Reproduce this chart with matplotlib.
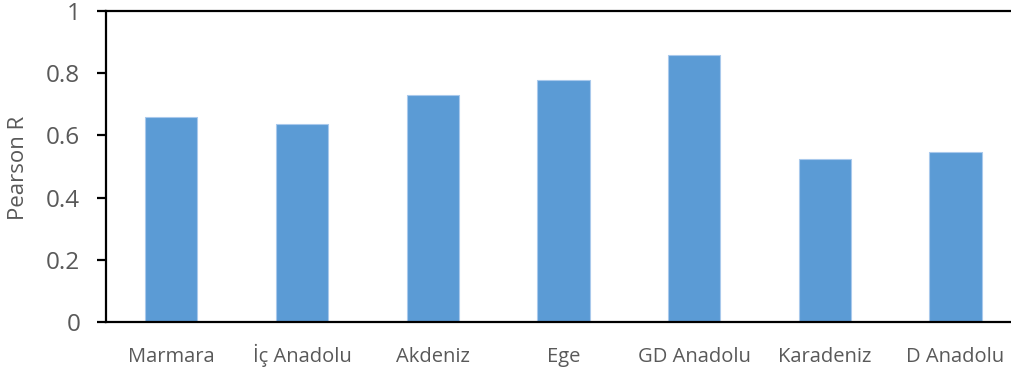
import matplotlib
matplotlib.use("Agg")
import matplotlib.pyplot as plt

categories = ["Marmara", "İç Anadolu", "Akdeniz", "Ege", "GD Anadolu", "Karadeniz", "D Anadolu"]
values = [0.658, 0.636, 0.730, 0.779, 0.859, 0.523, 0.546]
yticks = [0, 0.2, 0.4, 0.6, 0.8, 1]
ytick_labels = ["0", "0.2", "0.4", "0.6", "0.8", "1"]

plt.rcParams['font.family'] = ['Open Sans', 'DejaVu Sans']
text_color = "#595959"

fig = plt.figure(figsize=(10.11, 3.72), dpi=100)
W, H = 1011, 372
ax = fig.add_axes([106 / W, (H - 322.3) / H, 1 - 106 / W, (322.3 - 10.7) / H])

x = list(range(len(categories)))
ax.bar(x, values, width=0.4, color="#5B9BD5", edgecolor="#A9C9EC", linewidth=0.8, zorder=2)

ax.set_ylim(0, 1)
ax.set_xlim(-0.5, -0.5 + (W - 106) / 130.7)
ax.set_yticks(yticks)
ax.set_yticklabels(ytick_labels)
ax.set_xticks(x)
ax.set_xticklabels(categories)
for lbl in ax.get_xticklabels():
    lbl.set_va("baseline")

for s in ["left", "bottom", "top"]:
    ax.spines[s].set_linewidth(1.6)
    ax.spines[s].set_color("black")
ax.spines["right"].set_visible(False)

ax.tick_params(axis="y", length=6.5, width=1.6, color="black", labelsize=17.5,
               labelcolor=text_color, pad=12)
ax.tick_params(axis="x", length=0, labelsize=14.5, labelcolor=text_color, pad=28.8)
ax.set_ylabel("Pearson R", fontsize=16, color=text_color)
ax.yaxis.label.set_va("center")
ax.yaxis.set_label_coords((19 - 106) / (W - 106), (322.3 - 168) / (322.3 - 10.7))

fig.savefig("out.png", dpi=100)
